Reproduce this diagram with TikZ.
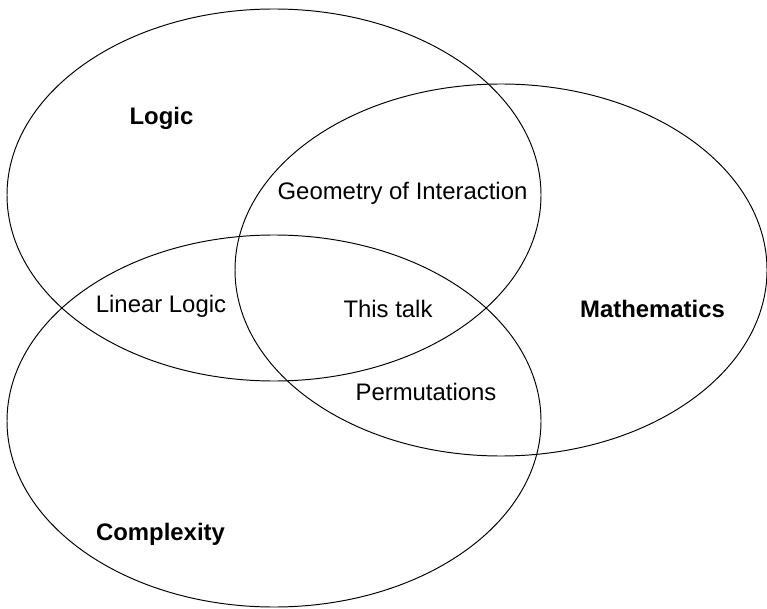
\documentclass[tikz,border=0pt]{standalone}
\usepackage{fontspec}
\setmainfont{Liberation Sans}
\usepackage{tikz}

\begin{document}
\begin{tikzpicture}[
  set/.style={draw, line width=0.55pt},
  area/.style={font=\fontsize{13.6}{16}\selectfont},
  field/.style={font=\fontsize{13.6}{16}\selectfont\bfseries},
]
\useasboundingbox (0,0) rectangle (15.34,-12.16);
% the three fields
\draw[set] (5.48,-3.90) ellipse (5.34cm and 3.72cm);
\draw[set] (10.02,-5.40) ellipse (5.32cm and 3.72cm);
\draw[set] (5.48,-8.42) ellipse (5.34cm and 3.72cm);
% labels
\node[field] (logic) at (3.23,-2.36) {Logic};
\node[field] (maths) at (13.05,-6.18) {Mathematics};
\node[field] (cplx) at (3.21,-10.68) {Complexity};
\node[area] (goi) at (8.05,-3.86) {Geometry of Interaction};
\node[area] (ll) at (3.22,-6.12) {Linear Logic};
\node[area] (talk) at (7.76,-6.18) {This talk};
\node[area] (perm) at (8.52,-7.84) {Permutations};
\end{tikzpicture}
\end{document}
